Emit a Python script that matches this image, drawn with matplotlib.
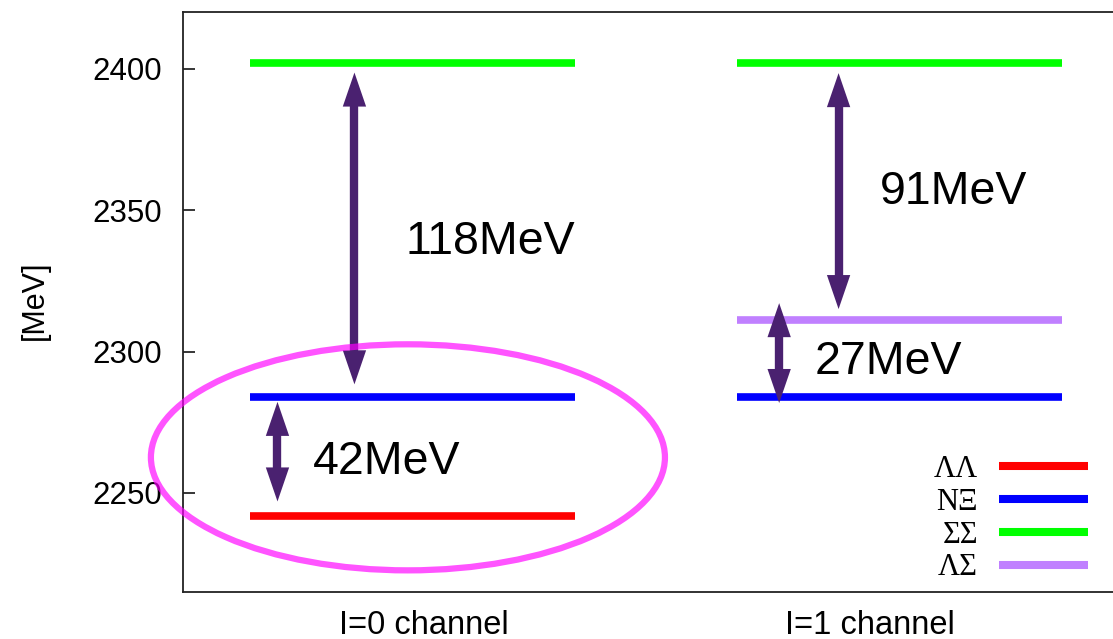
import matplotlib
matplotlib.use("Agg")
import matplotlib.pyplot as plt
from matplotlib.patches import Ellipse, FancyArrowPatch
from matplotlib.lines import Line2D
from matplotlib.font_manager import FontProperties

plt.rcParams['font.family'] = ['Liberation Sans', 'DejaVu Sans']

# --- data -------------------------------------------------------------
channels = ["I=0 channel", "I=1 channel"]
i0_states = ["ΛΛ", "NΞ", "ΣΣ"]
i0_masses = [2242, 2284, 2402]          # MeV
i1_states = ["NΞ", "ΛΣ", "ΣΣ"]
i1_masses = [2284, 2311, 2402]          # MeV
legend_states = ["ΛΛ", "NΞ", "ΣΣ", "ΛΣ"]
y_ticks = [2250, 2300, 2350, 2400]

# gaps between thresholds: (channel index, lower state, upper state)
gaps = [(0, "NΞ", "ΣΣ"), (0, "ΛΛ", "NΞ"), (1, "ΛΣ", "ΣΣ"), (1, "NΞ", "ΛΣ")]

# --- style / layout ---------------------------------------------------
colors = {"ΛΛ": "#ff0000", "NΞ": "#0000ff", "ΣΣ": "#00ff00", "ΛΣ": "#c080ff"}
arrow_color = "#4a2170"
level_half = 0.3337
# per gap: arrow x offset from channel centre, (lower pad, upper pad) in MeV,
# label position (x, baseline y)
arrow_dx = [-0.119, -0.277, -0.125, -0.247]
arrow_pads = [(4.4, -3.4), (5.0, -1.8), (4.0, -3.6), (-2.2, 6.1)]
label_pos = [(-0.015, 2334.4), (-0.204, 2256.7), (0.960, 2352.1), (0.826, 2292.0)]
xtick_pos = [0.024, 0.940]

W, H = 1113, 639
fig = plt.figure(figsize=(W / 100, H / 100), dpi=100)
ax = fig.add_axes([183 / W, (H - 592) / H, (1143 - 183) / W, (592 - 12) / H])
ax.set_xlim(-0.471, 1.5)
ax.set_ylim(2215, 2420)

mass = [dict(zip(i0_states, i0_masses)), dict(zip(i1_states, i1_masses))]

# threshold levels
for ci, (states, masses) in enumerate([(i0_states, i0_masses), (i1_states, i1_masses)]):
    for s, m in zip(states, masses):
        ax.plot([ci - level_half, ci + level_half], [m, m], color=colors[s],
                lw=5.5, solid_capstyle='butt', zorder=2)

# double-headed arrows with gap labels
head_len_pt, head_halfw_pt, shaft_pt = 24.5, 8.4, 6.0
for k, (ci, lo_s, hi_s) in enumerate(gaps):
    lo, hi = mass[ci][lo_s], mass[ci][hi_s]
    x = ci + arrow_dx[k]
    y0 = lo + arrow_pads[k][0]
    y1 = hi + arrow_pads[k][1]
    ax.plot([x, x], [y0 + 6, y1 - 6], color=arrow_color, lw=shaft_pt,
            solid_capstyle='butt', zorder=3)
    ax.add_patch(FancyArrowPatch(
        (x, y0), (x, y1),
        arrowstyle=f"<|-|>,head_length={head_len_pt},head_width={head_halfw_pt}",
        mutation_scale=1, lw=0, color=arrow_color, shrinkA=0, shrinkB=0, zorder=3))
    tx, ty = label_pos[k]
    ax.text(tx, ty, f"{hi - lo}MeV", fontsize=33.5, ha='left', va='baseline',
            color='black', zorder=4)

# highlight of the I=0 channel
ax.add_patch(Ellipse((-0.0092, 2262.6), width=1.0554, height=79.9, fill=False,
                     edgecolor='#ff00ff', alpha=0.67, lw=4.5, zorder=5,
                     clip_on=False))

# axes styling
for side in ['left', 'bottom', 'top', 'right']:
    ax.spines[side].set_linewidth(1.3)
    ax.spines[side].set_color('#222222')
ax.set_yticks(y_ticks)
ax.set_yticklabels([str(v) for v in y_ticks])
ax.tick_params(axis='y', direction='in', length=8.6, width=1.1, pad=15,
               labelsize=22.5, right=False)
ax.set_xticks(xtick_pos)
ax.set_xticklabels(channels)
ax.tick_params(axis='x', length=0, pad=13, labelsize=23.5)
ax.set_ylabel("[MeV]", fontsize=22)
ax.yaxis.set_label_coords(-0.139, 0.503)

# legend: label first, then line sample
handles = [Line2D([], [], color=colors[s], lw=5.8, solid_capstyle='butt')
           for s in legend_states]
ax.legend(handles, legend_states, loc='upper right',
          bbox_to_anchor=(1088 / W, (H - 455) / H), bbox_transform=fig.transFigure,
          frameon=False, markerfirst=False,
          prop=FontProperties(family='Liberation Serif', size=22),
          handlelength=2.9, handletextpad=0.7, borderpad=0, borderaxespad=0,
          labelspacing=0.125)

fig.savefig("out.png", dpi=100)
